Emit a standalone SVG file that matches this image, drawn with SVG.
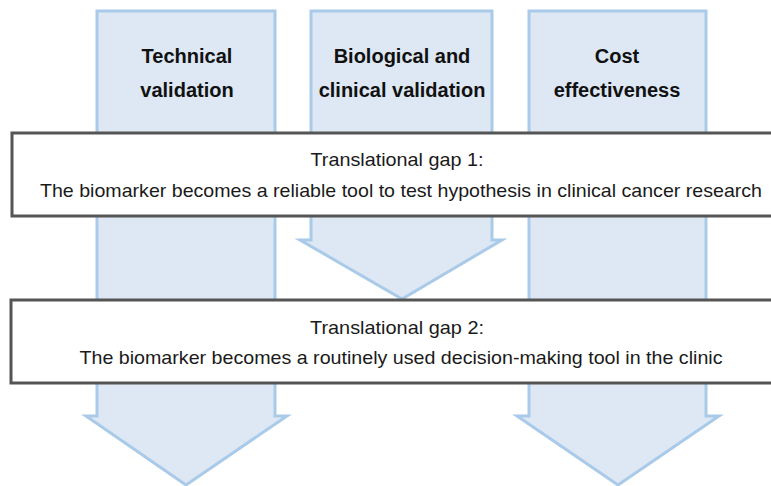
<svg xmlns="http://www.w3.org/2000/svg" width="771" height="486" viewBox="0 0 771 486">
  <style>
    .arrow { fill: #dde8f4; stroke: #a9cae8; stroke-width: 3; stroke-linejoin: miter; }
    .box { fill: #ffffff; stroke: #555555; stroke-width: 3; }
    .head { font-family: "Liberation Sans", Arial, sans-serif; font-size: 20px; font-weight: bold; fill: #111111; text-anchor: middle; }
    .body { font-family: "Liberation Sans", Arial, sans-serif; font-size: 19px; fill: #1a1a1a; text-anchor: middle; }
  </style>
  <rect width="771" height="486" fill="#ffffff"/>

  <!-- column arrows -->
  <g id="connectors">
    <polygon id="arrow-technical" class="arrow" points="97,11 275,11 275,416 287,416 186,485 86,416 97,416"/>
    <polygon id="arrow-biological" class="arrow" points="311,11 492,11 492,240 502,240 402,299 300,240 311,240"/>
    <polygon id="arrow-cost" class="arrow" points="529,11 706,11 706,416 719,416 618,485 517,416 529,416"/>
  </g>

  <g id="node-technical">
    <text class="head" x="187" y="63">Technical</text>
    <text class="head" x="187" y="97">validation</text>
  </g>

  <g id="node-biological">
    <text class="head" x="402" y="63">Biological and</text>
    <text class="head" x="402" y="97">clinical validation</text>
  </g>

  <g id="node-cost">
    <text class="head" x="617" y="63">Cost</text>
    <text class="head" x="617" y="97">effectiveness</text>
  </g>

  <g id="node-gap1">
    <rect class="box" x="12" y="133" width="770" height="83"/>
    <text class="body" x="397" y="166" textLength="173" lengthAdjust="spacingAndGlyphs">Translational gap 1:</text>
    <text class="body" x="401" y="197" textLength="722" lengthAdjust="spacingAndGlyphs">The biomarker becomes a reliable tool to test hypothesis in clinical cancer research</text>
  </g>

  <g id="node-gap2">
    <rect class="box" x="11" y="300" width="771" height="83"/>
    <text class="body" x="397" y="334" textLength="174" lengthAdjust="spacingAndGlyphs">Translational gap 2:</text>
    <text class="body" x="401" y="364" textLength="643" lengthAdjust="spacingAndGlyphs">The biomarker becomes a routinely used decision-making tool in the clinic</text>
  </g>
</svg>
